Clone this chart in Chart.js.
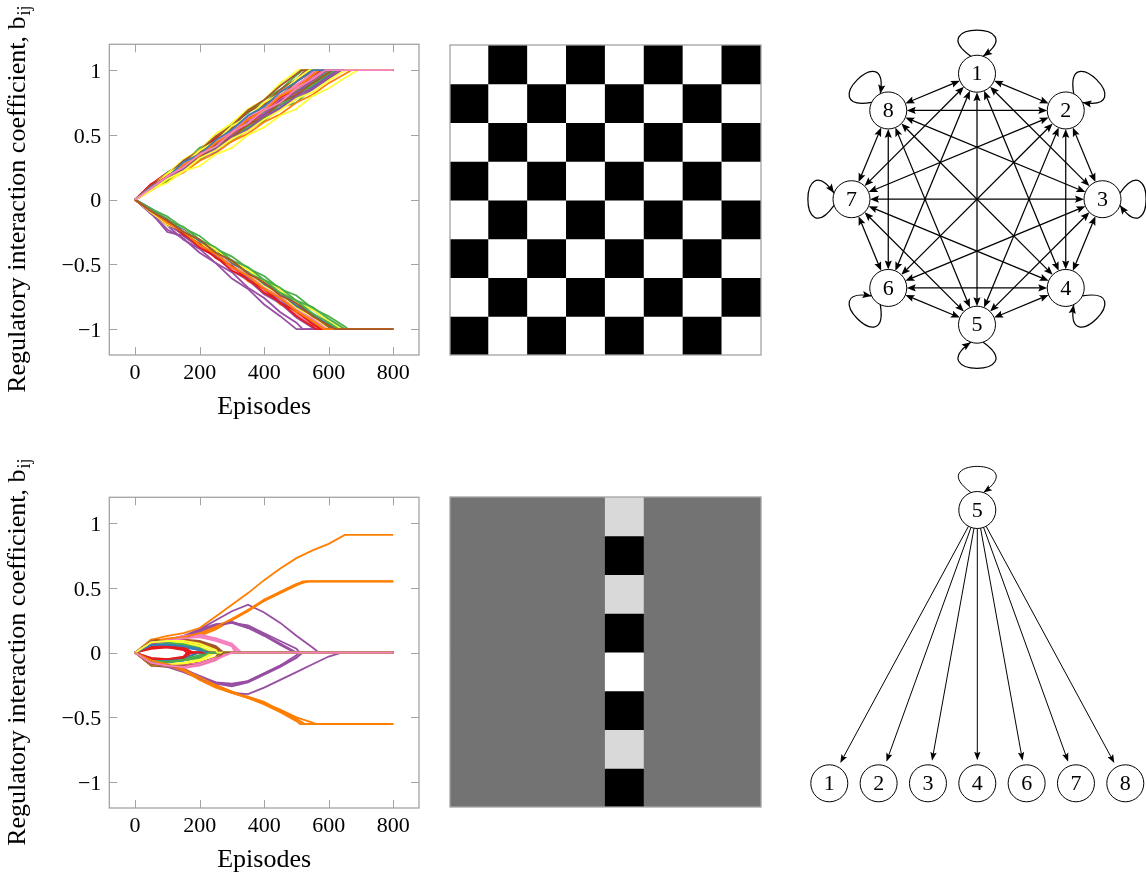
<!DOCTYPE html>
<html>
<head>
<meta charset="utf-8">
<script src="https://cdn.jsdelivr.net/npm/chart.js@4.4.1/dist/chart.umd.min.js"></script>
<style>
  html, body { margin: 0; padding: 0; background: #fff; }
  body { position: relative; width: 1146px; height: 874px; overflow: hidden; }
  canvas { position: absolute; }
</style>
</head>
<body>
<canvas id="lineTop" width="440" height="430" style="left:0;top:0"></canvas>
<canvas id="lineBottom" width="440" height="430" style="left:0;top:453px"></canvas>
<canvas id="mapTop" width="319" height="318" style="left:446px;top:40.5px"></canvas>
<canvas id="mapBottom" width="319" height="318" style="left:446px;top:493.3px"></canvas>
<canvas id="netTop" width="356" height="370" style="left:790px;top:20px"></canvas>
<canvas id="netBottom" width="356" height="370" style="left:790px;top:450px"></canvas>
<script>
// ---------- data ----------
const NODE_LABELS = ['1', '2', '3', '4', '5', '6', '7', '8'];
const SET1 = ['#e41a1c', '#377eb8', '#4daf4a', '#984ea3', '#ff7f00', '#ffff33', '#a65628', '#f781bf'];
const X_TICKS = [0, 200, 400, 600, 800];
const Y_TICKS = [-1, -0.5, 0, 0.5, 1];
const SAMPLE_EPISODES = [0, 50, 100, 150, 200, 250, 300, 350, 400, 450, 500, 550, 600, 650];
const LAST_EPISODE = 800;
const X_TITLE = 'Episodes';
const Y_TITLE = 'Regulatory interaction coefficient, b';
const Y_TITLE_SUB = 'ij';

// final interaction matrices b_ij (row i, column j)
const TOP_MATRIX = [
  [ 1, -1,  1, -1,  1, -1,  1, -1],
  [-1,  1, -1,  1, -1,  1, -1,  1],
  [ 1, -1,  1, -1,  1, -1,  1, -1],
  [-1,  1, -1,  1, -1,  1, -1,  1],
  [ 1, -1,  1, -1,  1, -1,  1, -1],
  [-1,  1, -1,  1, -1,  1, -1,  1],
  [ 1, -1,  1, -1,  1, -1,  1, -1],
  [-1,  1, -1,  1, -1,  1, -1,  1]
];
const BOTTOM_MATRIX = [
  [0, 0, 0, 0,  0.55, 0, 0, 0],
  [0, 0, 0, 0, -0.55, 0, 0, 0],
  [0, 0, 0, 0,  0.55, 0, 0, 0],
  [0, 0, 0, 0, -0.55, 0, 0, 0],
  [0, 0, 0, 0,  0.91, 0, 0, 0],
  [0, 0, 0, 0, -0.55, 0, 0, 0],
  [0, 0, 0, 0,  0.55, 0, 0, 0],
  [0, 0, 0, 0, -0.55, 0, 0, 0]
];

// episode at which each coefficient settles on its final value
const TOP_SETTLE = [
  [560, 600, 520, 520, 600, 610, 530, 580],
  [570, 580, 660, 610, 600, 505, 590, 570],
  [545, 640, 650, 500, 670, 620, 555, 575],
  [585, 600, 610, 640, 565, 690, 600, 585],
  [575, 625, 600, 555, 620, 640, 515, 570],
  [560, 625, 650, 595, 590, 540, 605, 560],
  [590, 615, 620, 580, 570, 600, 610, 595],
  [575, 550, 630, 630, 585, 650, 620, 590]
];
const BOTTOM_SETTLE = [
  [170, 215, 230, 570, 530, 255, 270, 310],
  [160, 210, 195, 505, 510, 240, 260, 300],
  [175, 220, 225, 500, 520, 250, 275, 330],
  [165, 205, 215, 640, 560, 260, 265, 290],
  [180, 225, 235, 510, 650, 235, 255, 320],
  [170, 215, 205, 515, 515, 250, 270, 280],
  [160, 200, 220, 495, 540, 245, 265, 315],
  [175, 220, 230, 520, 525, 255, 275, 300]
];

// sampled trajectories (every 50 episodes until settling), row-major b_11 ... b_88
const TOP_PATHS = [
  [0,.12,.21,.28,.35,.46,.52,.63,.70,.81,.88,.97],
  [0,-.08,-.17,-.24,-.34,-.40,-.51,-.57,-.67,-.74,-.84,-.91],
  [0,.09,.21,.28,.40,.46,.59,.67,.77,.85,.96],
  [0,-.11,-.20,-.31,-.38,-.49,-.56,-.68,-.76,-.87,-.95],
  [0,.09,.15,.26,.33,.42,.49,.60,.65,.75,.83,.92],
  [0,-.09,-.17,-.25,-.31,-.41,-.48,-.58,-.64,-.74,-.81,-.91,-.98],
  [0,.11,.18,.30,.37,.47,.56,.68,.74,.85,.93],
  [0,-.09,-.18,-.25,-.35,-.42,-.53,-.59,-.70,-.77,-.87,-.95],

  [0,-.09,-.19,-.25,-.36,-.43,-.53,-.60,-.71,-.78,-.89,-.96],
  [0,.09,.16,.26,.34,.44,.50,.62,.68,.78,.86,.95],
  [0,-.07,-.13,-.22,-.28,-.38,-.44,-.53,-.59,-.69,-.74,-.84,-.90,-.98],
  [0,.08,.18,.23,.34,.39,.50,.57,.66,.73,.82,.89,.98],
  [0,-.09,-.16,-.26,-.32,-.43,-.49,-.59,-.66,-.76,-.82,-.92],
  [0,.11,.20,.31,.38,.51,.59,.70,.77,.90,.99],
  [0,-.10,-.18,-.25,-.35,-.41,-.52,-.58,-.69,-.75,-.86,-.93],
  [0,.09,.19,.25,.35,.43,.54,.61,.71,.77,.89,.96],

  [0,.12,.18,.29,.36,.48,.54,.64,.73,.83,.92],
  [0,-.07,-.16,-.22,-.32,-.38,-.48,-.54,-.64,-.69,-.79,-.85,-.94],
  [0,.08,.14,.23,.30,.40,.45,.54,.61,.71,.75,.86,.93],
  [0,-.11,-.23,-.30,-.41,-.49,-.61,-.69,-.81,-.90],
  [0,.07,.15,.21,.30,.36,.45,.51,.60,.66,.75,.81,.90,.97],
  [0,-.10,-.20,-.24,-.34,-.39,-.49,-.55,-.65,-.71,-.82,-.88,-.97],
  [0,.10,.20,.26,.37,.44,.55,.62,.73,.80,.91,.99],
  [0,-.09,-.16,-.27,-.34,-.44,-.51,-.62,-.69,-.79,-.86,-.96],

  [0,-.09,-.18,-.25,-.35,-.42,-.52,-.59,-.69,-.76,-.86,-.94],
  [0,.08,.16,.27,.32,.43,.48,.59,.66,.76,.82,.91],
  [0,-.08,-.17,-.24,-.34,-.40,-.50,-.56,-.67,-.73,-.83,-.89,-.98],
  [0,.08,.16,.23,.32,.37,.48,.53,.63,.70,.78,.85,.94],
  [0,-.10,-.17,-.28,-.34,-.45,-.52,-.63,-.70,-.81,-.87,-.97],
  [0,.08,.13,.22,.26,.35,.40,.50,.56,.65,.70,.80,.86,.94],
  [0,-.09,-.18,-.24,-.35,-.41,-.51,-.57,-.68,-.74,-.84,-.92],
  [0,.10,.16,.26,.33,.44,.50,.61,.68,.78,.84,.94],

  [0,.12,.17,.28,.34,.44,.51,.62,.69,.79,.86,.96],
  [0,-.08,-.15,-.25,-.31,-.41,-.47,-.57,-.63,-.73,-.79,-.89,-.96],
  [0,.09,.17,.23,.35,.41,.51,.56,.68,.75,.84,.91],
  [0,-.10,-.25,-.28,-.37,-.44,-.55,-.62,-.73,-.80,-.91,-.99],
  [0,.08,.17,.24,.33,.39,.49,.56,.66,.71,.82,.88,.97],
  [0,-.08,-.18,-.22,-.32,-.38,-.48,-.54,-.63,-.69,-.79,-.85,-.94],
  [0,.11,.19,.30,.38,.49,.57,.69,.77,.88,.97],
  [0,-.09,-.18,-.25,-.36,-.43,-.54,-.60,-.71,-.78,-.89,-.96],

  [0,-.09,-.19,-.26,-.37,-.44,-.55,-.61,-.72,-.79,-.90,-.98],
  [0,.08,.18,.23,.33,.39,.49,.55,.65,.71,.81,.87,.96],
  [0,-.07,-.16,-.21,-.31,-.37,-.47,-.52,-.62,-.68,-.78,-.83,-.92],
  [0,.10,.16,.26,.32,.43,.50,.60,.66,.77,.83,.92],
  [0,-.09,-.18,-.25,-.35,-.41,-.52,-.58,-.69,-.75,-.86,-.93],
  [0,.09,.20,.27,.38,.45,.57,.64,.75,.82,.93],
  [0,-.09,-.16,-.26,-.32,-.42,-.49,-.59,-.65,-.75,-.82,-.91,-.99],
  [0,.10,.17,.28,.35,.45,.53,.64,.70,.81,.88,.98],

  [0,.10,.18,.25,.35,.41,.52,.58,.69,.75,.86,.93],
  [0,-.08,-.17,-.23,-.33,-.40,-.50,-.56,-.66,-.72,-.82,-.88,-.97],
  [0,.09,.15,.25,.32,.42,.47,.57,.63,.74,.79,.89,.97],
  [0,-.11,-.19,-.27,-.34,-.44,-.51,-.61,-.68,-.79,-.85,-.95],
  [0,.10,.16,.27,.34,.44,.51,.62,.69,.80,.86,.96],
  [0,-.10,-.19,-.24,-.34,-.40,-.51,-.57,-.67,-.74,-.84,-.91],
  [0,.09,.16,.25,.32,.42,.48,.58,.64,.75,.81,.90,.98],
  [0,-.09,-.18,-.24,-.35,-.41,-.51,-.58,-.68,-.75,-.85,-.92],

  [0,-.09,-.16,-.27,-.34,-.45,-.51,-.62,-.69,-.80,-.86,-.96],
  [0,.10,.17,.29,.35,.46,.54,.65,.72,.83,.91],
  [0,-.08,-.15,-.25,-.31,-.41,-.47,-.57,-.62,-.72,-.78,-.88,-.95],
  [0,.08,.17,.23,.32,.39,.48,.54,.65,.70,.80,.86,.95],
  [0,-.09,-.18,-.25,-.35,-.42,-.52,-.59,-.69,-.76,-.86,-.94],
  [0,.07,.16,.22,.32,.38,.47,.53,.62,.69,.78,.83,.92],
  [0,-.09,-.16,-.25,-.31,-.41,-.47,-.57,-.64,-.74,-.80,-.90,-.97],
  [0,.09,.18,.25,.35,.41,.52,.59,.69,.75,.86,.93]
];

const BOTTOM_PATHS = [
  [0,.03,.04,.03],
  [0,-.05,-.06,-.05,-.03],
  [0,.06,.07,.06,.05],
  [0,.08,.10,.12,.18,.25,.32,.37,.31,.23,.13,.04],
  [0,.08,.10,.11,.13,.18,.25,.32,.40,.46,.52],
  [0,-.08,-.09,-.09,-.07,-.03],
  [0,.09,.10,.10,.08,.04],
  [0,.08,.10,.12,.12,.09,.05],

  [0,-.05,-.06,-.04],
  [0,.06,.06,.05,.02],
  [0,-.06,-.07,-.05],
  [0,-.08,-.10,-.14,-.19,-.23,-.25,-.22,-.16,-.10,-.02],
  [0,-.06,-.09,-.12,-.19,-.25,-.30,-.34,-.38,-.45,-.52],
  [0,.08,.09,.08,.05],
  [0,-.09,-.10,-.10,-.08,-.04],
  [0,-.08,-.10,-.11,-.09,-.05],

  [0,.04,.05,.03],
  [0,-.06,-.07,-.06,-.03],
  [0,.07,.07,.06,.04],
  [0,.07,.09,.12,.17,.21,.24,.20,.14,.07],
  [0,.07,.10,.12,.14,.19,.26,.33,.40,.47,.53],
  [0,-.09,-.10,-.09,-.06],
  [0,.10,.10,.10,.09,.05],
  [0,.07,.09,.12,.13,.11,.07],

  [0,-.04,-.05,-.03],
  [0,.05,.06,.04,.02],
  [0,-.07,-.08,-.06,-.03],
  [0,-.08,-.10,-.14,-.20,-.26,-.31,-.32,-.27,-.21,-.15,-.09,-.03],
  [0,-.07,-.09,-.13,-.20,-.26,-.31,-.35,-.39,-.44,-.50,-.54],
  [0,.08,.09,.09,.07,.03],
  [0,-.10,-.11,-.10,-.08,-.04],
  [0,-.09,-.10,-.12,-.10,-.06],

  [0,.05,.05,.04],
  [0,-.07,-.07,-.06,-.04],
  [0,.06,.07,.07,.05],
  [0,.08,.10,.13,.18,.22,.23,.21,.15,.09,.03],
  [0,.10,.13,.15,.19,.28,.37,.46,.56,.65,.73,.79,.84],
  [0,-.08,-.09,-.08,-.05],
  [0,.09,.10,.09,.07,.03],
  [0,.08,.10,.13,.14,.11,.06],

  [0,-.06,-.06,-.04],
  [0,.06,.07,.05,.03],
  [0,-.06,-.06,-.05,-.02],
  [0,-.09,-.11,-.15,-.20,-.24,-.26,-.23,-.17,-.11,-.04],
  [0,-.07,-.10,-.14,-.21,-.27,-.31,-.35,-.40,-.46,-.53],
  [0,.09,.09,.08,.05],
  [0,-.10,-.10,-.10,-.08,-.04],
  [0,-.08,-.09,-.10,-.08,-.04],

  [0,.04,.04,.02],
  [0,-.05,-.06,-.04],
  [0,.07,.08,.06,.03],
  [0,.07,.09,.11,.16,.21,.23,.19,.13,.06],
  [0,.08,.11,.12,.15,.20,.26,.33,.41,.47,.53],
  [0,-.09,-.10,-.08,-.05],
  [0,.09,.09,.09,.08,.04],
  [0,.08,.09,.11,.12,.10,.05],

  [0,-.05,-.05,-.04],
  [0,.06,.06,.05,.03],
  [0,-.07,-.07,-.06,-.04],
  [0,-.08,-.10,-.13,-.18,-.23,-.24,-.22,-.16,-.10,-.04],
  [0,-.06,-.09,-.13,-.19,-.25,-.30,-.35,-.39,-.45,-.51],
  [0,.08,.09,.09,.07,.02],
  [0,-.09,-.10,-.10,-.09,-.05],
  [0,-.08,-.10,-.11,-.09,-.05]
];

// ---------- styling ----------
const SERIF = '"Liberation Serif", "Times New Roman", serif';
const AXIS_GRAY = '#a3a3a3';
const TICK_LEN = 8;
// grey colormap stops: [position in data range, grey level]
const GRAY_MAP = [[0, 0], [0.377, 115], [0.753, 217], [1, 255]];

Chart.defaults.animation = false;
Chart.defaults.font.family = SERIF;
Chart.defaults.color = '#000';
Chart.defaults.plugins.legend.display = false;
Chart.defaults.plugins.tooltip.enabled = false;
Chart.defaults.events = [];

function fmtTick(v) {
  return v < 0 ? '\u2212' + Math.abs(v) : String(v);
}

// frame with inward tick marks on all four sides
const frameTicks = {
  id: 'frameTicks',
  afterDraw(chart) {
    const { ctx, chartArea: a, scales: { x, y } } = chart;
    ctx.save();
    ctx.strokeStyle = AXIS_GRAY;
    ctx.lineWidth = 1;
    ctx.beginPath();
    X_TICKS.forEach(v => {
      const px = Math.round(x.getPixelForValue(v)) + 0.5;
      ctx.moveTo(px, a.bottom); ctx.lineTo(px, a.bottom - TICK_LEN);
      ctx.moveTo(px, a.top); ctx.lineTo(px, a.top + TICK_LEN);
    });
    Y_TICKS.forEach(v => {
      const py = Math.round(y.getPixelForValue(v)) + 0.5;
      ctx.moveTo(a.left, py); ctx.lineTo(a.left + TICK_LEN, py);
      ctx.moveTo(a.right, py); ctx.lineTo(a.right - TICK_LEN, py);
    });
    ctx.stroke();
    ctx.lineWidth = 1.3;
    ctx.strokeRect(a.left, a.top, a.width, a.height);
    ctx.restore();
  }
};

// rotated y title with subscript
const yTitle = {
  id: 'yTitle',
  afterDraw(chart) {
    const { ctx, chartArea: a } = chart;
    ctx.save();
    const mainFont = '26px ' + SERIF, subFont = '18px ' + SERIF;
    ctx.font = mainFont; const w1 = ctx.measureText(Y_TITLE).width;
    ctx.font = subFont; const w2 = ctx.measureText(Y_TITLE_SUB).width;
    ctx.translate(25, (a.top + a.bottom) / 2);
    ctx.rotate(-Math.PI / 2);
    ctx.fillStyle = '#000';
    ctx.textAlign = 'left';
    ctx.textBaseline = 'alphabetic';
    const x0 = -(w1 + w2) / 2;
    ctx.font = mainFont; ctx.fillText(Y_TITLE, x0, 0);
    ctx.font = subFont; ctx.fillText(Y_TITLE_SUB, x0 + w1 + 1, 5);
    ctx.restore();
  }
};

function lineChart(id, matrix, settle, paths) {
  const datasets = [];
  for (let i = 0; i < matrix.length; i++) {
    for (let j = 0; j < matrix[i].length; j++) {
      const T = settle[i][j], f = matrix[i][j], vals = paths[i * matrix.length + j];
      const data = [];
      vals.forEach((v, n) => {
        if (SAMPLE_EPISODES[n] < T) data.push({ x: SAMPLE_EPISODES[n], y: v });
      });
      data.push({ x: T, y: f }, { x: LAST_EPISODE, y: f });
      datasets.push({
        data, borderColor: SET1[j], borderWidth: 1.8,
        pointRadius: 0, tension: 0, fill: false
      });
    }
  }
  datasets.reverse(); // later coefficients end up on top
  return new Chart(document.getElementById(id), {
    type: 'line',
    data: { datasets },
    options: {
      responsive: false,
      devicePixelRatio: 1,
      layout: { padding: { left: 0, top: 44.3, right: 21, bottom: 0 } },
      scales: {
        x: {
          type: 'linear', min: -80, max: 880,
          afterBuildTicks: s => { s.ticks = X_TICKS.map(v => ({ value: v })); },
          afterFit: s => { s.height = 75; },
          grid: { display: false, drawTicks: false },
          border: { display: false },
          ticks: { font: { size: 22 }, color: '#000', padding: 5, maxRotation: 0, autoSkip: false, callback: fmtTick },
          title: { display: true, text: X_TITLE, font: { size: 26 }, color: '#000', padding: { top: 0, bottom: 7 } }
        },
        y: {
          type: 'linear', min: -1.2, max: 1.2,
          afterBuildTicks: s => { s.ticks = Y_TICKS.map(v => ({ value: v })); },
          afterFit: s => { s.width = 109.3; },
          grid: { display: false, drawTicks: false },
          border: { display: false },
          ticks: { font: { size: 22 }, color: '#000', padding: 8, labelOffset: 2, autoSkip: false, callback: fmtTick }
        }
      }
    },
    plugins: [frameTicks, yTitle]
  });
}

function grayAt(t) {
  for (let k = 1; k < GRAY_MAP.length; k++) {
    const [t0, g0] = GRAY_MAP[k - 1], [t1, g1] = GRAY_MAP[k];
    if (t <= t1 + 1e-9) {
      const g = Math.round(g0 + (g1 - g0) * (t - t0) / (t1 - t0));
      return `rgb(${g},${g},${g})`;
    }
  }
  return 'rgb(255,255,255)';
}

const mapFrame = {
  id: 'mapFrame',
  afterDraw(chart) {
    const { ctx, chartArea: a } = chart;
    ctx.save();
    ctx.strokeStyle = AXIS_GRAY;
    ctx.lineWidth = 1.3;
    ctx.strokeRect(a.left, a.top, a.width, a.height);
    ctx.restore();
  }
};

function heatmap(id, matrix) {
  const all = matrix.flat();
  const lo = Math.min(...all), hi = Math.max(...all);
  const datasets = matrix.map(row => ({
    data: row.map(() => 1),
    backgroundColor: row.map(v => grayAt((v - lo) / (hi - lo))),
    borderWidth: 0,
    barPercentage: 1,
    categoryPercentage: 1,
    inflateAmount: 0.6
  }));
  return new Chart(document.getElementById(id), {
    type: 'bar',
    data: { labels: NODE_LABELS, datasets },
    options: {
      responsive: false,
      devicePixelRatio: 1,
      layout: { padding: 4 },
      scales: {
        x: { display: false, stacked: true },
        y: { display: false, stacked: true, reverse: true, min: 0, max: matrix.length }
      }
    },
    plugins: [mapFrame]
  });
}

// ---------- network diagrams ----------
function ringLayout(n) {
  return Array.from({ length: n }, (_, k) => {
    const th = Math.PI / 2 - 2 * Math.PI * k / n;
    return { x: Math.cos(th), y: Math.sin(th) };
  });
}

function treeLayout(m) {
  const n = m.length;
  const outDeg = m[0].map((_, j) => m.filter((row, i) => i !== j && row[j] !== 0).length);
  const root = outDeg.indexOf(Math.max(...outDeg));
  const kids = [...Array(n).keys()].filter(k => k !== root);
  const pos = new Array(n);
  pos[root] = { x: 0, y: 1 };
  kids.forEach((k, idx) => { pos[k] = { x: idx - (kids.length - 1) / 2, y: 0 }; });
  return pos;
}

function arrowHead(ctx, x, y, ang, len, half) {
  const c = Math.cos(ang), s = Math.sin(ang);
  const bx = x - c * len, by = y - s * len;
  ctx.beginPath();
  ctx.moveTo(x, y);
  ctx.lineTo(bx - s * half, by + c * half);
  ctx.lineTo(x - c * len * 0.82, y - s * len * 0.82);
  ctx.lineTo(bx + s * half, by - c * half);
  ctx.closePath();
  ctx.fill();
}

function drawEdge(ctx, a, b, o, headAtB, headAtA) {
  const dx = b.x - a.x, dy = b.y - a.y, d = Math.hypot(dx, dy);
  const ux = dx / d, uy = dy / d;
  const sa = o.radius + (headAtA ? o.gap : 0), sb = o.radius + (headAtB ? o.gap : 0);
  const x0 = a.x + ux * sa, y0 = a.y + uy * sa;
  const x1 = b.x - ux * sb, y1 = b.y - uy * sb;
  const ang = Math.atan2(uy, ux);
  const ca = headAtA ? o.head * 0.7 : 0, cb = headAtB ? o.head * 0.7 : 0;
  ctx.beginPath();
  ctx.moveTo(x0 + ux * ca, y0 + uy * ca);
  ctx.lineTo(x1 - ux * cb, y1 - uy * cb);
  ctx.stroke();
  if (headAtB) arrowHead(ctx, x1, y1, ang, o.head, o.half);
  if (headAtA) arrowHead(ctx, x0, y0, ang + Math.PI, o.head, o.half);
}

function drawLoop(ctx, p, psi, o) {
  const r = o.radius, phi = 0.34, alpha = 0.95, L = 60;
  const P0 = { x: p.x + r * Math.cos(psi - phi), y: p.y + r * Math.sin(psi - phi) };
  const P3 = { x: p.x + r * Math.cos(psi + phi), y: p.y + r * Math.sin(psi + phi) };
  const P1 = { x: P0.x + L * Math.cos(psi - alpha), y: P0.y + L * Math.sin(psi - alpha) };
  const P2 = { x: P3.x + L * Math.cos(psi + alpha), y: P3.y + L * Math.sin(psi + alpha) };
  ctx.beginPath();
  ctx.moveTo(P0.x, P0.y);
  ctx.bezierCurveTo(P1.x, P1.y, P2.x, P2.y, P3.x, P3.y);
  ctx.stroke();
  arrowHead(ctx, P3.x, P3.y, Math.atan2(P3.y - P2.y, P3.x - P2.x), o.head, o.half);
}

const graphPlugin = {
  id: 'graph',
  beforeDatasetsDraw(chart, args, o) {
    const ctx = chart.ctx, pts = chart.getDatasetMeta(0).data, m = o.matrix, n = m.length;
    const cx = pts.reduce((s, p) => s + p.x, 0) / n, cy = pts.reduce((s, p) => s + p.y, 0) / n;
    ctx.save();
    ctx.strokeStyle = '#000';
    ctx.fillStyle = '#000';
    ctx.lineWidth = o.lineWidth;
    for (let i = 0; i < n; i++) {
      for (let j = i + 1; j < n; j++) {
        const jToI = m[i][j] !== 0, iToJ = m[j][i] !== 0;
        if (jToI || iToJ) drawEdge(ctx, pts[j], pts[i], o, jToI, iToJ);
      }
    }
    for (let i = 0; i < n; i++) {
      if (m[i][i] !== 0) drawLoop(ctx, pts[i], Math.atan2(pts[i].y - cy, pts[i].x - cx), o);
    }
    ctx.restore();
  },
  afterDatasetsDraw(chart) {
    const ctx = chart.ctx, pts = chart.getDatasetMeta(0).data;
    ctx.save();
    ctx.font = '22px ' + SERIF;
    ctx.fillStyle = '#000';
    ctx.textAlign = 'center';
    ctx.textBaseline = 'middle';
    pts.forEach((p, k) => ctx.fillText(NODE_LABELS[k], p.x, p.y + 1));
    ctx.restore();
  }
};

function network(id, matrix, pos, range, padding, style) {
  return new Chart(document.getElementById(id), {
    type: 'scatter',
    data: {
      datasets: [{
        data: pos,
        pointRadius: style.radius,
        pointHoverRadius: style.radius,
        pointBackgroundColor: '#fff',
        pointBorderColor: '#000',
        pointBorderWidth: 1,
        clip: false
      }]
    },
    options: {
      responsive: false,
      devicePixelRatio: 1,
      layout: { padding },
      scales: {
        x: { type: 'linear', display: false, min: range.x[0], max: range.x[1] },
        y: { type: 'linear', display: false, min: range.y[0], max: range.y[1] }
      },
      plugins: { graph: Object.assign({ matrix }, style) }
    },
    plugins: [graphPlugin]
  });
}

// ---------- build ----------
lineChart('lineTop', TOP_MATRIX, TOP_SETTLE, TOP_PATHS);
lineChart('lineBottom', BOTTOM_MATRIX, BOTTOM_SETTLE, BOTTOM_PATHS);
heatmap('mapTop', TOP_MATRIX);
heatmap('mapBottom', BOTTOM_MATRIX);

network('netTop', TOP_MATRIX, ringLayout(TOP_MATRIX.length),
  { x: [-1, 1], y: [-1, 1] },
  { left: 61.5, right: 43.5, top: 53.7, bottom: 65.3 },
  { radius: 18.5, gap: 0, lineWidth: 1.25, head: 9, half: 3.6 });

network('netBottom', BOTTOM_MATRIX, treeLayout(BOTTOM_MATRIX),
  { x: [-3, 3], y: [0, 1] },
  { left: 39.3, right: 20.7, top: 60, bottom: 36.7 },
  { radius: 18.5, gap: 4.5, lineWidth: 1, head: 8.5, half: 3.2 });
</script>
</body>
</html>
